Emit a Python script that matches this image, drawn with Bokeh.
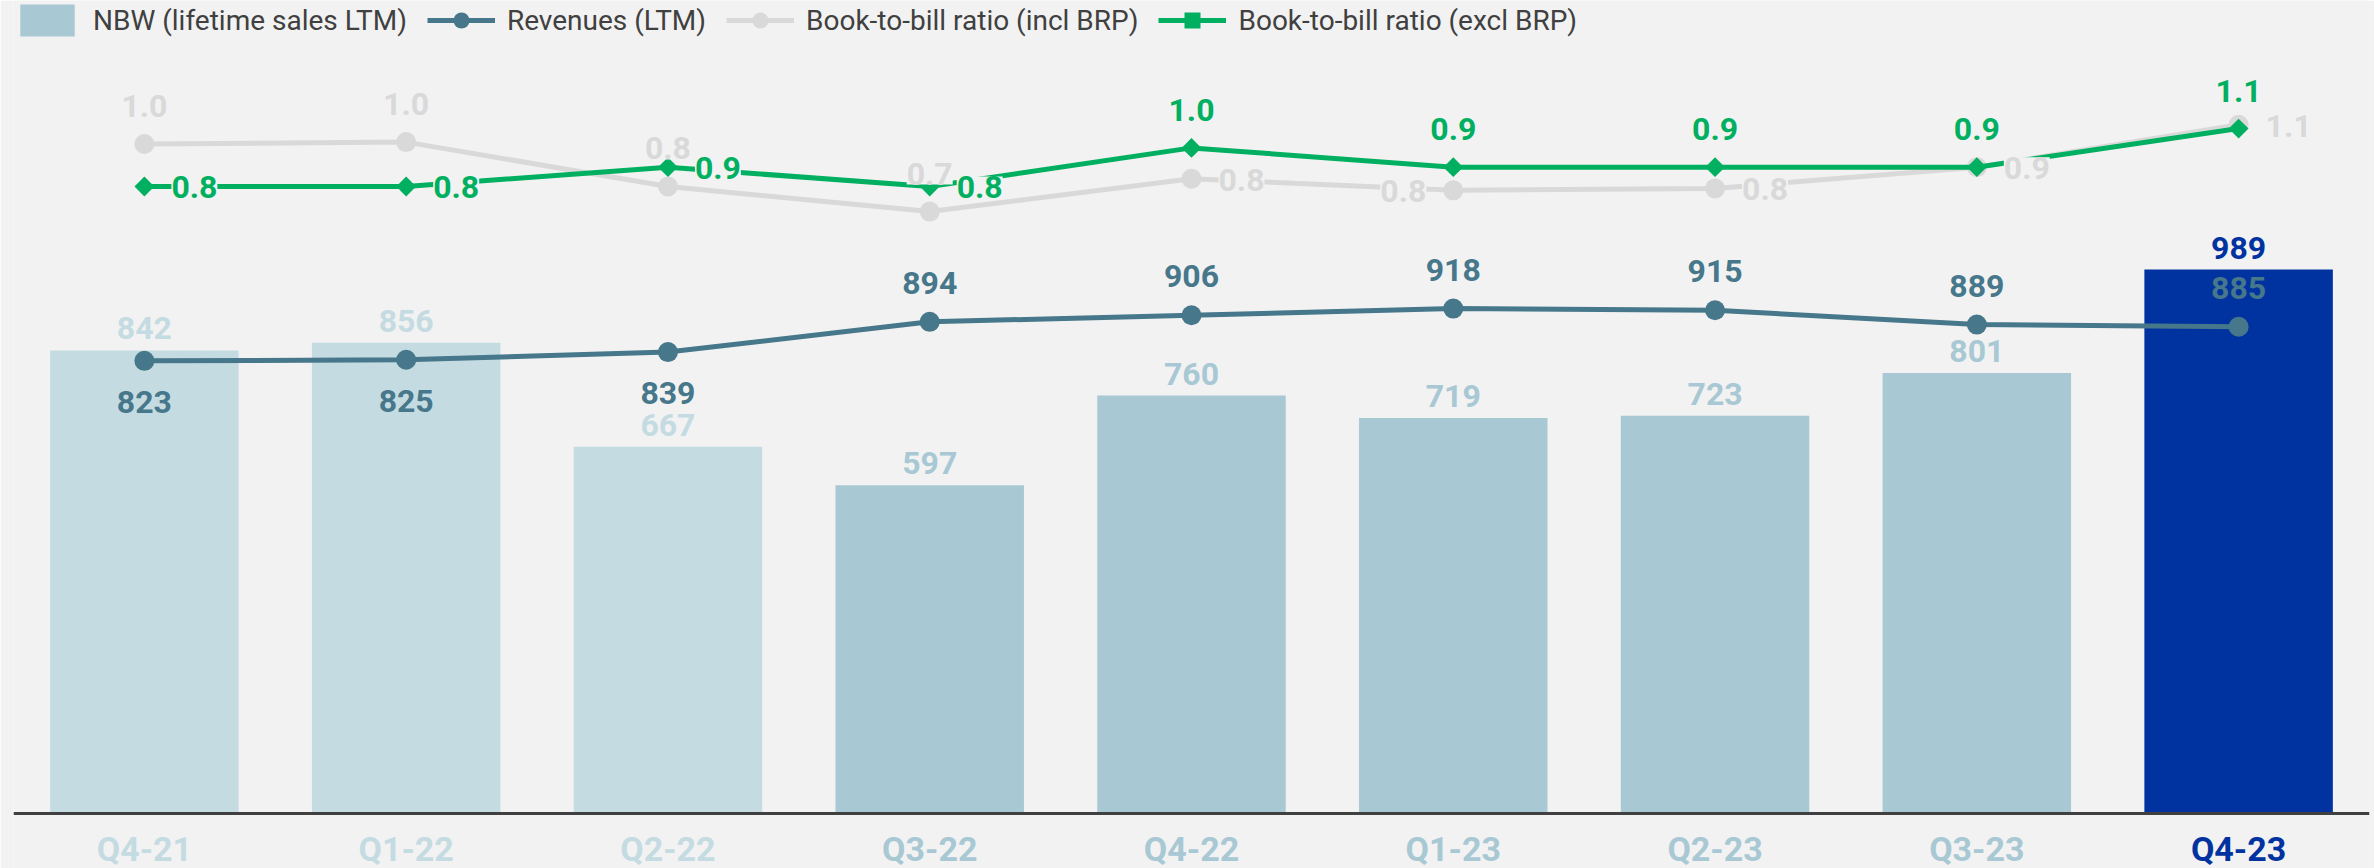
import math
from bokeh.plotting import figure
from bokeh.models import ColumnDataSource, FactorRange, Range1d, LabelSet, Legend, LegendItem, Span
from bokeh.embed import file_html
from bokeh.resources import INLINE
from bokeh.core.properties import value

# ---------------- data ----------------
quarters = ["Q4-21", "Q1-22", "Q2-22", "Q3-22", "Q4-22", "Q1-23", "Q2-23", "Q3-23", "Q4-23"]
nbw = [842, 856, 667, 597, 760, 719, 723, 801, 989]
revenues = [823, 825, 839, 894, 906, 918, 915, 889, 885]
btb_incl = [1.02, 1.03, 0.80, 0.67, 0.84, 0.78, 0.79, 0.90, 1.12]
btb_excl = [0.80, 0.80, 0.90, 0.80, 1.00, 0.90, 0.90, 0.90, 1.10]

# ---------------- style ----------------
BG = "#F2F2F2"
LIGHT = "#C5DBE2"
MED = "#A8C8D4"
DARK = "#0033A0"
TEAL = "#46778A"
GREY = "#D9D9D9"
GREEN = "#00B060"
TEXT = "#404040"
FONT = value("Roboto")

bar_colors = [LIGHT] * 3 + [MED] * 5 + [DARK]
rev_pos = ["below", "below", "below", "above", "above", "above", "above", "above", "above"]
incl_pos = ["above", "above", "above", "above", "right", "left", "right", "right", "right"]
excl_pos = ["right", "right", "right", "right", "above", "above", "above", "above", "above"]

p = figure(
    x_range=FactorRange(factors=quarters, range_padding=0),
    y_range=Range1d(-100.0, 1478.2),
    width=2374, height=868,
    output_backend="svg", toolbar_location=None,
    x_axis_location=None, y_axis_location=None,
    title=None,
    min_border=0, min_border_left=13, min_border_right=5,
    background_fill_color=BG, border_fill_color=BG,
    outline_line_color=None,
)
p.extra_y_ranges = {"btb": Range1d(-2.7337, 1.7637)}
p.grid.visible = False

src = ColumnDataSource(dict(q=quarters, nbw=nbw, rev=revenues, incl=btb_incl,
                            excl=btb_excl, color=bar_colors))

bars = p.vbar(x="q", top="nbw", width=0.72, fill_color="color", line_color=None, source=src)

rev_line = p.line("q", "rev", source=src, line_color=TEAL, line_width=5)
rev_pts = p.scatter("q", "rev", source=src, marker="circle", size=20,
                    fill_color=TEAL, line_color=None)

incl_line = p.line("q", "incl", source=src, line_color=GREY, line_width=5, y_range_name="btb")
incl_pts = p.scatter("q", "incl", source=src, marker="circle", size=20,
                     fill_color=GREY, line_color=None, y_range_name="btb")

excl_line = p.line("q", "excl", source=src, line_color=GREEN, line_width=5, y_range_name="btb")
excl_pts = p.scatter("q", "excl", source=src, marker="square", angle=math.pi / 4, size=14,
                     fill_color=GREEN, line_color=None, y_range_name="btb")

p.add_layout(Span(location=0, dimension="width", line_color="#404040", line_width=3))

has_padding = "padding" in LabelSet.properties()


def add_labels(xs, ys, texts, colors, y_range_name="default", align="center",
               x_off=0, y_off=0, bg=None, size="32px"):
    if not xs:
        return
    s = ColumnDataSource(dict(x=xs, y=ys, text=texts, color=colors))
    kw = {}
    if bg is not None:
        kw["background_fill_color"] = bg
        if has_padding:
            kw["padding"] = 5
    ls = LabelSet(x="x", y="y", text="text", source=s, text_color="color",
                  text_font=FONT, text_font_size=size, text_font_style="bold",
                  text_align=align, text_baseline="alphabetic",
                  x_offset=x_off, y_offset=y_off, y_range_name=y_range_name, **kw)
    p.add_layout(ls)


def pick(pos, which, values):
    return [v for v, ps in zip(values, pos) if ps == which]


# bar labels
add_labels(quarters, nbw, [str(v) for v in nbw], bar_colors, y_off=11)

# revenue labels
for which, yo in (("above", 28), ("below", -52)):
    xs = pick(rev_pos, which, quarters)
    ys = pick(rev_pos, which, revenues)
    add_labels(xs, ys, [str(v) for v in ys], [TEAL] * len(xs), y_off=yo)

# ratio labels
placement = {"above": ("center", 0, 27), "right": ("left", 27, -12), "left": ("right", -27, -12)}
for vals, pos, col in ((btb_incl, incl_pos, GREY), (btb_excl, excl_pos, GREEN)):
    for which, (al, xo, yo) in placement.items():
        xs = pick(pos, which, quarters)
        ys = pick(pos, which, vals)
        add_labels(xs, ys, [f"{v:.1f}" for v in ys], [col] * len(xs), y_range_name="btb",
                   align=al, x_off=xo, y_off=yo, bg=BG)

# category labels (coloured per quarter)
add_labels(quarters, [0] * len(quarters), quarters, bar_colors, y_off=-47, size="34px")

legend = Legend(
    items=[
        LegendItem(label="NBW (lifetime sales LTM)", renderers=[bars], index=3),
        LegendItem(label="Revenues (LTM)", renderers=[rev_line, rev_pts]),
        LegendItem(label="Book-to-bill ratio (incl BRP)", renderers=[incl_line, incl_pts]),
        LegendItem(label="Book-to-bill ratio (excl BRP)", renderers=[excl_line, excl_pts]),
    ],
    location="top_left", orientation="horizontal",
    glyph_width=68, glyph_height=40, label_height=40,
    label_standoff=12, spacing=20, padding=0, margin=0,
    background_fill_alpha=0, border_line_color=None,
    label_text_font="Roboto", label_text_font_size="28px", label_text_color=TEXT,
)
p.add_layout(legend)

open("out.html", "w").write(file_html(p, INLINE))
